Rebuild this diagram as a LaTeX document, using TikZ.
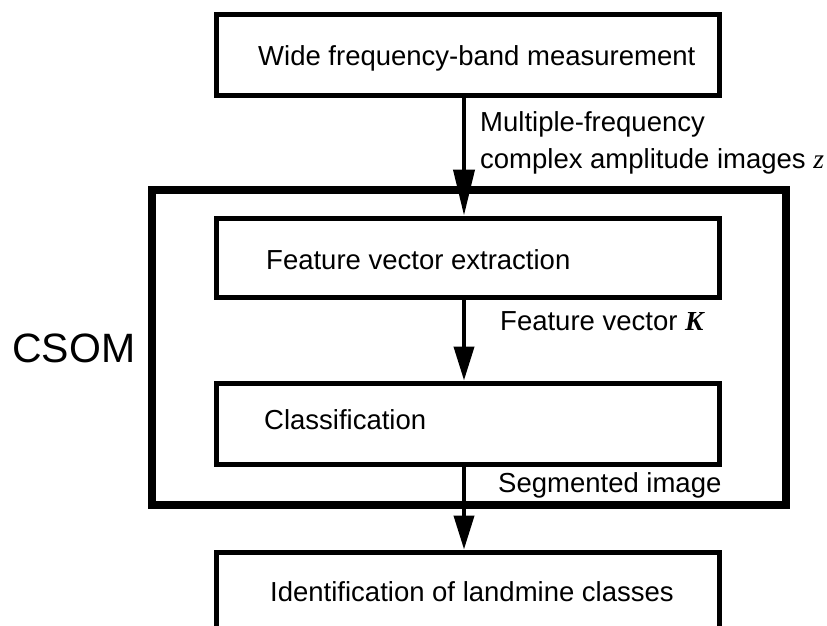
\documentclass[tikz,border=0pt]{standalone}
\usepackage{fontspec}
\setmainfont{Liberation Sans}
\newfontfamily\serifface{Liberation Serif}
\usetikzlibrary{arrows.meta}
\tikzset{
  box/.style={draw, line width=5pt, inner sep=0pt, minimum width=503pt, minimum height=81pt},
  frame/.style={draw, line width=8pt, inner sep=0pt, minimum width=634pt, minimum height=315pt},
  txt/.style={inner sep=0pt, anchor=base west, font=\fontsize{27.5}{33}\selectfont},
  bigtxt/.style={inner sep=0pt, anchor=base west, font=\fontsize{41}{48}\selectfont},
  flow/.style={line width=4pt, -{Triangle[length=34pt, width=20pt]}},
  flowlong/.style={line width=4pt, -{Triangle[length=46pt, width=21pt]}}
}
\begin{document}
\begin{tikzpicture}[x=1pt, y=-1pt]
\useasboundingbox (0,0) rectangle (827,626);
\clip (0,0) rectangle (827,626);
\fill[white] (0,0) rectangle (827,626);
\coordinate (ax) at (464,0);
% CSOM frame
\node[frame] (csom) at (469,347.5) {};
% boxes
\node[box] (meas) at (467.5,55) {};
\node[box, minimum height=79pt] (feat) at (467.5,257.5) {};
\node[box] (cls) at (467.5,423.5) {};
\node[box, minimum height=88pt] (ident) at (467.5,596) {};
% box texts
\node[txt] (tmeas) at (258,66) {Wide frequency-band measurement};
\node[txt] (tfeat) at (266,269) {Feature vector extraction};
\node[txt] (tcls) at (264,429) {Classification};
\node[txt] (tident) at (270,601) {Identification of landmine classes};
% arrows
\draw[flowlong] (meas.south -| ax) -- (feat.north -| ax);
\draw[flow] (feat.south -| ax) -- (cls.north -| ax);
\draw[flow] (cls.south -| ax) -- (ident.north -| ax);
% arrow labels
\node[txt] (l1a) at (480,131) {Multiple-frequency};
\node[txt] (l1b) at (480,168) {complex amplitude images {\serifface\itshape z}};
\node[txt] (l2) at (500,330) {Feature vector {\serifface\bfseries\itshape K}};
\node[txt] (l3) at (498,492) {Segmented image};
\node[bigtxt] (lcsom) at (12,362) {CSOM};
\end{tikzpicture}
\end{document}
